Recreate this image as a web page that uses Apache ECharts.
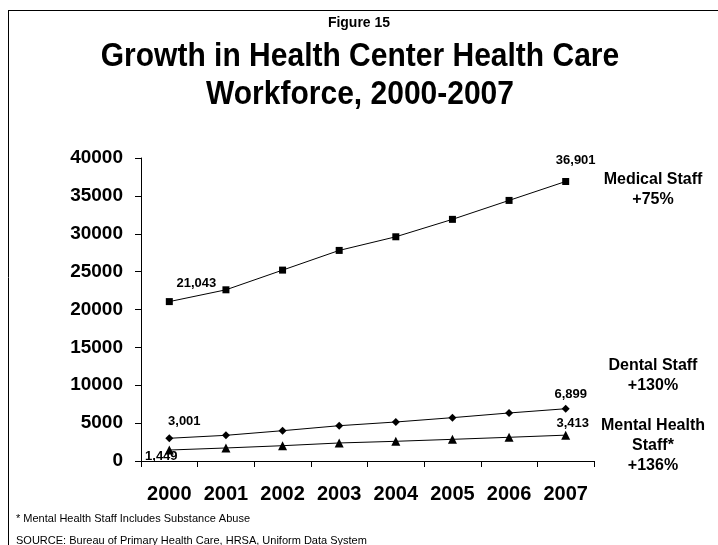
<!DOCTYPE html>
<html>
<head>
<meta charset="utf-8">
<script src="https://cdn.jsdelivr.net/npm/echarts@6/dist/echarts.min.js"></script>
<style>
html,body{margin:0;padding:0;background:#fff;}
#chart{width:718px;height:545px;}
</style>
</head>
<body>
<div id="chart"></div>
<script>
const years = ['2000','2001','2002','2003','2004','2005','2006','2007'];
const medicalStaff = [21043, 22600, 25200, 27800, 29600, 31900, 34400, 36901];
const dentalStaff = [3001, 3390, 4000, 4660, 5150, 5720, 6340, 6899];
const mentalHealthStaff = [1449, 1720, 2020, 2380, 2600, 2860, 3130, 3413];
const yTicks = [0, 5000, 10000, 15000, 20000, 25000, 30000, 35000, 40000];

const FONT = '"Liberation Sans", Arial, sans-serif';
const fmt = v => v.toLocaleString('en-US');

// label offsets (style only) for first / last points
const labelOffsets = {
  medical: [[27, -18], [10, -21]],
  dental: [[15, -17], [5, -14]],
  mental: [[-8, 6], [7, -12]]
};

function buildData(values, offs) {
  return values.map((v, i) => {
    const first = i === 0, last = i === values.length - 1;
    if (!first && !last) return v;
    return {
      value: v,
      label: {
        show: true,
        position: 'inside',
        offset: first ? offs[0] : offs[1],
        formatter: p => fmt(p.value),
        color: '#000',
        fontFamily: FONT,
        fontWeight: 'bold',
        fontSize: 13
      }
    };
  });
}

function mkSeries(name, values, symbol, size, offs) {
  return {
    name: name,
    type: 'line',
    data: buildData(values, offs),
    symbol: symbol,
    symbolSize: size,
    smooth: false,
    lineStyle: { color: '#000', width: 1 },
    itemStyle: { color: '#000', borderWidth: 0 },
    label: { show: false },
    emphasis: { disabled: true },
    animation: false,
    z: 3
  };
}

const chart = echarts.init(document.getElementById('chart'), null, { renderer: 'canvas' });

const txt = (t, x, y, size, weight, sy) => ({
  type: 'text', x: x, y: y, scaleY: sy || 1,
  style: { text: t, fill: '#000', font: `${weight} ${size}px ${FONT}`, textAlign: 'center', textVerticalAlign: 'middle' }
});

chart.setOption({
  backgroundColor: '#fff',
  animation: false,
  grid: { left: 141, right: 124, top: 158, bottom: 84, containLabel: false },
  xAxis: {
    type: 'category',
    data: years,
    boundaryGap: true,
    axisLine: { show: true, lineStyle: { color: '#000', width: 1 } },
    axisTick: { show: true, inside: false, length: 6, interval: 0, alignWithLabel: false, lineStyle: { color: '#000' } },
    axisLabel: { interval: 0, hideOverlap: false, color: '#000', fontFamily: FONT, fontWeight: 'bold', fontSize: 20, margin: 23 },
    splitLine: { show: false }
  },
  yAxis: {
    type: 'value',
    min: yTicks[0],
    max: yTicks[yTicks.length - 1],
    interval: yTicks[1] - yTicks[0],
    axisLine: { show: true, lineStyle: { color: '#000', width: 1 } },
    axisTick: { show: true, inside: false, length: 6, lineStyle: { color: '#000' } },
    axisLabel: { formatter: v => String(v), color: '#000', fontFamily: FONT, fontWeight: 'bold', fontSize: 19, margin: 18 },
    splitLine: { show: false }
  },
  series: [
    mkSeries('Medical Staff', medicalStaff, 'rect', 7, labelOffsets.medical),
    mkSeries('Dental Staff', dentalStaff, 'diamond', 8, labelOffsets.dental),
    mkSeries('Mental Health Staff', mentalHealthStaff, 'triangle', 9, labelOffsets.mental)
  ],
  graphic: [
    { type: 'line', shape: { x1: 8, y1: 10.5, x2: 718, y2: 10.5 }, style: { stroke: '#000', lineWidth: 1 } },
    { type: 'line', shape: { x1: 8.5, y1: 10, x2: 8.5, y2: 545 }, style: { stroke: '#000', lineWidth: 1 } },
    txt('Figure 15', 359, 23, 14, 'bold', 1.1),
    txt('Growth in Health Center Health Care', 360, 57, 30, 'bold', 1.12),
    txt('Workforce, 2000-2007', 360, 95, 30, 'bold', 1.12),
    txt('Medical Staff', 653, 180, 16, 'bold'),
    txt('+75%', 653, 200, 16, 'bold'),
    txt('Dental Staff', 653, 366, 16, 'bold'),
    txt('+130%', 653, 386, 16, 'bold'),
    txt('Mental Health', 653, 426, 16, 'bold'),
    txt('Staff*', 653, 446, 16, 'bold'),
    txt('+136%', 653, 466, 16, 'bold'),
    { type: 'text', x: 16, y: 519, style: { text: '* Mental Health Staff Includes Substance Abuse', fill: '#000', font: `11px ${FONT}`, textAlign: 'left', textVerticalAlign: 'middle' } },
    { type: 'text', x: 16, y: 541, style: { text: 'SOURCE: Bureau of Primary Health Care, HRSA, Uniform Data System', fill: '#000', font: `11px ${FONT}`, textAlign: 'left', textVerticalAlign: 'middle' } }
  ]
});
</script>
</body>
</html>
